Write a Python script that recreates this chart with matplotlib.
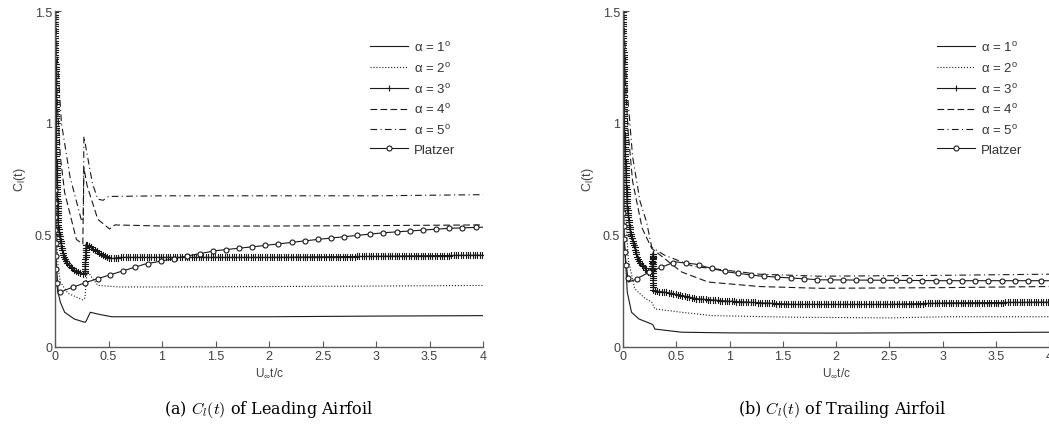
import numpy as np
import matplotlib
matplotlib.use("Agg")
import matplotlib.pyplot as plt
from matplotlib.lines import Line2D
from matplotlib.path import Path
from matplotlib.transforms import Affine2D, IdentityTransform
from matplotlib.patheffects import AbstractPathEffect

plt.rcParams['font.family'] = ['Liberation Sans', 'DejaVu Sans']
plt.rcParams['mathtext.fontset'] = 'custom'
plt.rcParams['mathtext.rm'] = 'Liberation Sans'
plt.rcParams['mathtext.it'] = 'Liberation Sans'

# ---------- (a) Leading airfoil ----------
tL_a1 = [0, 0.01, 0.03, 0.05, 0.09, 0.18, 0.28, 0.29, 0.33, 0.42, 0.53, 1, 2, 3, 4]
cl_L_a1 = [1.6, 0.4, 0.24, 0.2, 0.155, 0.125, 0.11, 0.115, 0.155, 0.145, 0.135, 0.135, 0.135, 0.138, 0.14]

tL_a2 = [0, 0.01, 0.03, 0.05, 0.12, 0.26, 0.28, 0.3, 0.4, 0.6, 1, 2, 3, 4]
cl_L_a2 = [1.6, 0.6, 0.35, 0.29, 0.24, 0.21, 0.22, 0.34, 0.275, 0.268, 0.268, 0.27, 0.272, 0.275]

tL_a3 = [0, 0.01, 0.03, 0.06, 0.09, 0.14, 0.19, 0.26, 0.28, 0.29, 0.35, 0.44, 0.53, 0.6, 1, 2, 3, 4]
cl_L_a3 = [1.6, 0.9, 0.54, 0.45, 0.39, 0.36, 0.34, 0.325, 0.33, 0.46, 0.44, 0.41, 0.395, 0.4, 0.4, 0.4, 0.405, 0.41]

tL_a4 = [0, 0.02, 0.05, 0.09, 0.2, 0.26, 0.27, 0.3, 0.4, 0.51, 0.56, 1, 2, 3, 4]
cl_L_a4 = [1.6, 1.1, 0.85, 0.69, 0.48, 0.46, 0.8, 0.72, 0.57, 0.527, 0.545, 0.54, 0.54, 0.542, 0.545]

tL_a5 = [0, 0.02, 0.06, 0.14, 0.25, 0.265, 0.27, 0.35, 0.4, 0.45, 0.5, 1, 2, 3, 4]
cl_L_a5 = [1.6, 1.3, 1.0, 0.76, 0.56, 0.58, 0.94, 0.73, 0.66, 0.655, 0.672, 0.675, 0.675, 0.675, 0.68]

tL_pl = [0, 0.01, 0.03, 0.1, 0.3, 0.5, 0.84, 1.5, 1.9, 2.45, 3.07, 3.69, 4]
cl_L_pl = [0.7, 0.3, 0.24, 0.255, 0.29, 0.32, 0.37, 0.43, 0.45, 0.48, 0.51, 0.53, 0.535]

# ---------- (b) Trailing airfoil ----------
tT_a1 = [0, 0.01, 0.04, 0.08, 0.15, 0.23, 0.28, 0.3, 0.55, 1, 2, 3, 4]
cl_T_a1 = [1.6, 0.5, 0.245, 0.155, 0.125, 0.11, 0.1, 0.08, 0.066, 0.063, 0.062, 0.064, 0.066]

tT_a2 = [0, 0.01, 0.05, 0.11, 0.2, 0.27, 0.3, 0.55, 0.84, 1.6, 2.5, 3.05, 4]
cl_T_a2 = [1.6, 0.7, 0.39, 0.26, 0.22, 0.2, 0.17, 0.155, 0.14, 0.133, 0.13, 0.135, 0.135]

tT_a3 = [0, 0.01, 0.04, 0.07, 0.14, 0.23, 0.27, 0.28, 0.285, 0.39, 0.55, 0.7, 0.98, 1.6, 2.5, 3.05, 4]
cl_T_a3 = [1.6, 1.0, 0.62, 0.51, 0.39, 0.335, 0.33, 0.42, 0.25, 0.245, 0.23, 0.215, 0.205, 0.19, 0.19, 0.197, 0.2]

tT_a4 = [0, 0.02, 0.05, 0.09, 0.18, 0.27, 0.55, 0.8, 1.28, 1.85, 3, 4]
cl_T_a4 = [1.6, 1.2, 0.95, 0.74, 0.53, 0.44, 0.335, 0.29, 0.27, 0.262, 0.265, 0.27]

tT_a5 = [0, 0.03, 0.09, 0.16, 0.22, 0.27, 0.39, 0.66, 0.84, 1.28, 1.85, 3, 4]
cl_T_a5 = [1.6, 1.2, 0.85, 0.65, 0.56, 0.445, 0.41, 0.36, 0.35, 0.325, 0.316, 0.32, 0.325]

tT_pl = [0, 0.02, 0.05, 0.11, 0.27, 0.49, 0.68, 0.84, 0.98, 1.28, 1.85, 3, 4]
cl_T_pl = [0.6, 0.41, 0.29, 0.3, 0.34, 0.38, 0.37, 0.35, 0.335, 0.317, 0.3, 0.296, 0.296]

labels = [r'$\alpha$ = 1$^{\mathrm{o}}$', r'$\alpha$ = 2$^{\mathrm{o}}$', r'$\alpha$ = 3$^{\mathrm{o}}$',
          r'$\alpha$ = 4$^{\mathrm{o}}$', r'$\alpha$ = 5$^{\mathrm{o}}$', 'Platzer']
xticks = [0, 0.5, 1, 1.5, 2, 2.5, 3, 3.5, 4]
xticklabels = ['0', '0.5', '1', '1.5', '2', '2.5', '3', '3.5', '4']
yticks = [0, 0.5, 1, 1.5]
yticklabels = ['0', '0.5', '1', '1.5']

LC = '0.1'
LW = 0.8


# markers stamped along the drawn line at a fixed on-screen spacing
class MarkersAlong(AbstractPathEffect):
    def __init__(self, marker, spacing, size):
        super().__init__()
        self.marker = marker
        self.spacing = spacing
        self.size = size

    def draw_path(self, renderer, gc, tpath, affine, rgbFace=None):
        renderer.draw_path(gc, tpath, affine, rgbFace)
        v = affine.transform(tpath.vertices)
        d = np.hypot(*np.diff(v, axis=0).T)
        cum = np.concatenate([[0], np.cumsum(d)])
        step = renderer.points_to_pixels(self.spacing)
        s = np.arange(0, cum[-1], step)
        pts = np.column_stack([np.interp(s, cum, v[:, 0]), np.interp(s, cum, v[:, 1])])
        gc0 = renderer.new_gc()
        gc0.copy_properties(gc)
        gc0.set_dashes(0, None)
        sz = renderer.points_to_pixels(self.size) / 2
        if self.marker == '+':
            mpath = Path([[-1, 0], [1, 0], [0, -1], [0, 1]],
                         [Path.MOVETO, Path.LINETO, Path.MOVETO, Path.LINETO])
            face = None
        else:
            mpath = Path.unit_circle()
            face = (1, 1, 1, 1)
        renderer.draw_markers(gc0, mpath, Affine2D().scale(sz), Path(pts),
                              IdentityTransform(), face)
        gc0.restore()


fig = plt.figure(figsize=(10.49, 4.27), dpi=100)
ax1 = fig.add_axes([55/1049, 79/427, 428/1049, 336/427])
ax2 = fig.add_axes([623/1049, 79/427, 426/1049, 336/427])


def draw(ax, series, leg_x):
    (t1, c1), (t2, c2), (t3, c3), (t4, c4), (t5, c5), (tp, cp) = series
    ax.plot(t1, c1, '-', color=LC, lw=LW)
    ax.plot(t2, c2, ':', color=LC, lw=LW)
    ax.plot(t3, c3, '-', color=LC, lw=LW,
            path_effects=[MarkersAlong('+', 1.7, 5)])
    ax.plot(t4, c4, '--', color=LC, lw=LW, dashes=(6, 3))
    ax.plot(t5, c5, '-.', color=LC, lw=LW, dashes=(6, 3, 1, 3))
    ax.plot(tp, cp, '-', color=LC, lw=LW,
            path_effects=[MarkersAlong('o', 9.5, 3.6)])

    ax.set_xlim(0, 4)
    ax.set_ylim(0, 1.5)
    ax.set_xticks(xticks)
    ax.set_xticklabels(xticklabels)
    ax.set_yticks(yticks)
    ax.set_yticklabels(yticklabels)
    ax.spines['top'].set_visible(False)
    ax.spines['right'].set_visible(False)
    for s in ['left', 'bottom']:
        ax.spines[s].set_color('0.35')
        ax.spines[s].set_linewidth(1.0)
    ax.tick_params(direction='in', length=4, width=0.8, color='0.35',
                   labelsize=9, labelcolor='0.25', pad=2)
    ax.set_xlabel(r'U$_{\infty}$t/c', fontsize=8.5, color='0.25', labelpad=3)
    ax.set_ylabel(r'C$_l$(t)', fontsize=9, color='0.25', labelpad=5)

    handles = [
        Line2D([], [], ls='-', color=LC, lw=LW),
        Line2D([], [], ls=':', color=LC, lw=LW),
        Line2D([], [], ls='-', color=LC, lw=LW, marker='+', ms=5, mew=0.8),
        Line2D([], [], ls='--', color=LC, lw=LW, dashes=(6, 3)),
        Line2D([], [], ls='-.', color=LC, lw=LW, dashes=(6, 3, 1, 3)),
        Line2D([], [], ls='-', color=LC, lw=LW, marker='o', ms=3.6, mfc='white', mew=0.8),
    ]
    ax.legend(handles, labels, loc='upper left', bbox_to_anchor=(leg_x/1049, 1 - 41/427),
              bbox_transform=fig.transFigure, frameon=False, fontsize=9.5,
              handlelength=2.9, handletextpad=0.45, labelspacing=0.51, numpoints=1,
              borderpad=0, borderaxespad=0, labelcolor='0.2')


draw(ax1, [(tL_a1, cl_L_a1), (tL_a2, cl_L_a2), (tL_a3, cl_L_a3),
           (tL_a4, cl_L_a4), (tL_a5, cl_L_a5), (tL_pl, cl_L_pl)], 370)
draw(ax2, [(tT_a1, cl_T_a1), (tT_a2, cl_T_a2), (tT_a3, cl_T_a3),
           (tT_a4, cl_T_a4), (tT_a5, cl_T_a5), (tT_pl, cl_T_pl)], 937)

cap_font = dict(fontsize=11.5, family='DejaVu Serif', ha='center', va='center')
fig.text(269/1049, 1 - 410/427, r'(a) $C_l(t)$ of Leading Airfoil', math_fontfamily='cm', **cap_font)
fig.text(842/1049, 1 - 410/427, r'(b) $C_l(t)$ of Trailing Airfoil', math_fontfamily='cm', **cap_font)

fig.savefig('out.png', dpi=100)
